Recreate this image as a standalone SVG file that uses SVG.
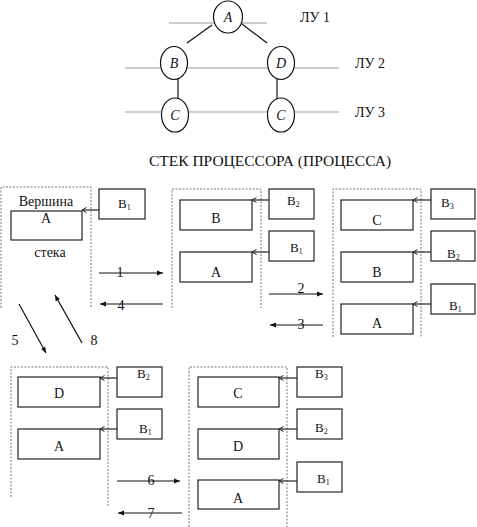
<svg xmlns="http://www.w3.org/2000/svg" width="477" height="527" viewBox="0 0 477 527" font-family="'Liberation Serif', 'DejaVu Serif', serif">
<style>
text{font-family:'Liberation Serif','DejaVu Serif',serif;fill:#111}
.t{font-size:14px;text-anchor:middle}
.it{font-style:italic}
.lv{fill:none;stroke:#999;stroke-width:1}
.node{fill:#fff;stroke:#111;stroke-width:1.2}
.edge{stroke:#111;stroke-width:1.2;fill:none}
.frame{fill:none;stroke:#777;stroke-width:1;stroke-dasharray:2 1.5}
.box{fill:#fff;stroke:#222;stroke-width:1.2}
.ptr{stroke:#222;stroke-width:1.2;fill:none;marker-end:url(#sm)}
.arr{stroke:#111;stroke-width:1.2;fill:none;marker-end:url(#ah)}
.sub{font-size:8px}
</style>
<defs>
<marker id="sm" markerWidth="6" markerHeight="6" refX="5" refY="3" orient="auto" markerUnits="userSpaceOnUse">
<path d="M0.5,0.5 L5,3 L0.5,5.5" fill="none" stroke="#222" stroke-width="1"/>
</marker>
<marker id="ah" markerWidth="7" markerHeight="6" refX="6" refY="3" orient="auto" markerUnits="userSpaceOnUse">
<path d="M0,0.5 L6,3 L0,5.5 Z" fill="#111"/>
</marker>
</defs>

<g id="levels">
<line class="lv" x1="169" y1="23" x2="267" y2="23"/>
<line class="lv" x1="125" y1="68" x2="339" y2="68"/>
<line class="lv" x1="125" y1="112" x2="339" y2="112"/>
<text x="300" y="22" font-size="14">ЛУ 1</text>
<text x="355" y="68" font-size="14">ЛУ 2</text>
<text x="355" y="117" font-size="14">ЛУ 3</text>
</g>

<g id="tree-edges">
<line class="edge" x1="212" y1="25" x2="187" y2="43"/>
<line class="edge" x1="242" y1="24" x2="267" y2="43"/>
<line class="edge" x1="178" y1="79" x2="178" y2="99"/>
<line class="edge" x1="277" y1="79" x2="277" y2="99"/>
</g>
<g id="nA"><ellipse class="node" cx="228" cy="17" rx="14.5" ry="16"/><text class="t it" x="228" y="22">A</text></g>
<g id="nB"><ellipse class="node" cx="174" cy="63" rx="13.5" ry="16.5"/><text class="t it" x="174" y="68">B</text></g>
<g id="nD"><ellipse class="node" cx="281" cy="63" rx="13.5" ry="16.5"/><text class="t it" x="281" y="68">D</text></g>
<g id="nC1"><ellipse class="node" cx="175" cy="115" rx="13.5" ry="17"/><text class="t it" x="175" y="120">C</text></g>
<g id="nC2"><ellipse class="node" cx="281" cy="115" rx="13.5" ry="17"/><text class="t it" x="281" y="120">C</text></g>

<text x="270" y="166" font-size="15.5" text-anchor="middle">СТЕК ПРОЦЕССОРА (ПРОЦЕССА)</text>

<g id="stack1">
<path class="frame" d="M1,308 V187 H91 V308"/>
<text class="t" x="46" y="206">Вершина</text>
<rect class="box" x="11" y="211" width="71" height="29"/>
<text class="t" x="46" y="223">A</text>
<text class="t" x="50" y="257">стека</text>
<rect class="box" x="99" y="189" width="46" height="30"/>
<text x="118" y="208" font-size="13">B<tspan class="sub" dy="2">1</tspan></text>
<line class="ptr" x1="99" y1="210" x2="82" y2="210"/>
</g>

<g id="stack2">
<path class="frame" d="M172,308 V189 H261 V308"/>
<rect class="box" x="180" y="200" width="72" height="30"/>
<text class="t" x="216" y="223">B</text>
<rect class="box" x="180" y="252" width="72" height="30"/>
<text class="t" x="216" y="277">A</text>
<rect class="box" x="269" y="189" width="45" height="30"/>
<text x="287" y="205" font-size="13">B<tspan class="sub" dy="2">2</tspan></text>
<rect class="box" x="269" y="231" width="45" height="30"/>
<text x="290" y="252" font-size="13">B<tspan class="sub" dy="2">1</tspan></text>
<line class="ptr" x1="269" y1="200" x2="252" y2="200"/>
<line class="ptr" x1="269" y1="252" x2="252" y2="252"/>
</g>

<g id="stack3">
<path class="frame" d="M333,337 V189 H421 V337"/>
<rect class="box" x="341" y="200" width="72" height="30"/>
<text class="t" x="377" y="225">C</text>
<rect class="box" x="341" y="252" width="72" height="30"/>
<text class="t" x="377" y="277">B</text>
<rect class="box" x="341" y="304" width="72" height="30"/>
<text class="t" x="377" y="328">A</text>
<rect class="box" x="431" y="189" width="44" height="30"/>
<text x="441" y="207" font-size="13">B<tspan class="sub" dy="2">3</tspan></text>
<rect class="box" x="431" y="231" width="44" height="30"/>
<text x="447" y="258" font-size="13">B<tspan class="sub" dy="2">2</tspan></text>
<rect class="box" x="431" y="284" width="44" height="30"/>
<text x="449" y="310" font-size="13">B<tspan class="sub" dy="2">1</tspan></text>
<line class="ptr" x1="431" y1="200" x2="413" y2="200"/>
<line class="ptr" x1="431" y1="252" x2="413" y2="252"/>
<line class="ptr" x1="431" y1="304" x2="413" y2="304"/>
</g>

<g id="stack4">
<path class="frame" d="M11,497 V367 H108 V507"/>
<rect class="box" x="18" y="377" width="82" height="30"/>
<text class="t" x="59" y="398">D</text>
<rect class="box" x="18" y="429" width="82" height="30"/>
<text class="t" x="59" y="451">A</text>
<rect class="box" x="117" y="367" width="45" height="30"/>
<text x="137" y="378" font-size="13">B<tspan class="sub" dy="2">2</tspan></text>
<rect class="box" x="117" y="409" width="45" height="30"/>
<text x="139" y="433" font-size="13">B<tspan class="sub" dy="2">1</tspan></text>
<line class="ptr" x1="117" y1="378" x2="100" y2="378"/>
<line class="ptr" x1="117" y1="429" x2="100" y2="429"/>
</g>

<g id="stack5">
<path class="frame" d="M189,527 V367 H287 V527"/>
<rect class="box" x="198" y="377" width="81" height="30"/>
<text class="t" x="238" y="398">C</text>
<rect class="box" x="198" y="429" width="81" height="30"/>
<text class="t" x="238" y="451">D</text>
<rect class="box" x="198" y="480" width="81" height="29"/>
<text class="t" x="238" y="503">A</text>
<rect class="box" x="297" y="367" width="45" height="30"/>
<text x="315" y="378" font-size="13">B<tspan class="sub" dy="2">3</tspan></text>
<rect class="box" x="297" y="409" width="45" height="30"/>
<text x="315" y="432" font-size="13">B<tspan class="sub" dy="2">2</tspan></text>
<rect class="box" x="297" y="462" width="45" height="30"/>
<text x="317" y="483" font-size="13">B<tspan class="sub" dy="2">1</tspan></text>
<line class="ptr" x1="297" y1="378" x2="279" y2="378"/>
<line class="ptr" x1="297" y1="429" x2="279" y2="429"/>
<line class="ptr" x1="297" y1="481" x2="279" y2="481"/>
</g>

<g id="connectors">
<line class="arr" x1="99" y1="273" x2="163" y2="273"/>
<text class="t" x="120" y="277">1</text>
<line class="arr" x1="163" y1="304" x2="100" y2="304"/>
<text class="t" x="121" y="310">4</text>
<line class="arr" x1="269" y1="294" x2="323" y2="294"/>
<text class="t" x="301" y="293">2</text>
<line class="arr" x1="323" y1="325" x2="270" y2="325"/>
<text class="t" x="301" y="329">3</text>
<line class="arr" x1="19" y1="304" x2="46" y2="353"/>
<text class="t" x="15" y="345">5</text>
<line class="arr" x1="82" y1="343" x2="55" y2="295"/>
<text class="t" x="94" y="345">8</text>
<line class="arr" x1="117" y1="481" x2="180" y2="481"/>
<text class="t" x="151" y="485">6</text>
<line class="arr" x1="182" y1="513" x2="118" y2="513"/>
<text class="t" x="151" y="518">7</text>
</g>
</svg>
